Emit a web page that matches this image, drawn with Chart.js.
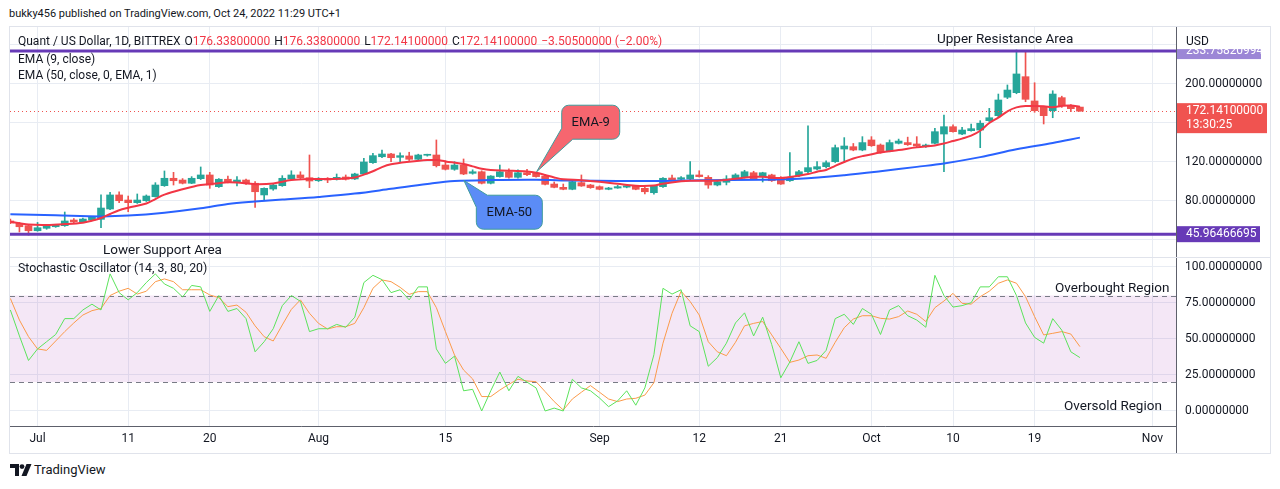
<!DOCTYPE html>
<html>
<head>
<meta charset="utf-8">
<script src="https://cdn.jsdelivr.net/npm/chart.js@4.4.0/dist/chart.umd.min.js"></script>
<style>
html, body { margin: 0; padding: 0; background: #fff; }
body { width: 1280px; height: 489px; position: relative; overflow: hidden; font-family: Roboto, "Liberation Sans", sans-serif; color: #131722; }
.t { position: absolute; white-space: nowrap; height: 16px; line-height: 16px; }
.red { color: #f23645; }
.gap { margin-left: 4px; }
#frame { position: absolute; left: 9px; top: 26px; width: 1260px; height: 426px; border: 1px solid #e0e3eb; }
#sep { position: absolute; left: 10px; top: 257px; width: 1260px; height: 1px; background: #e0e3eb; }
#axisFoot { position: absolute; left: 1176px; top: 426px; width: 1px; height: 27px; background: #5d606b; }
#pricePane { position: absolute; left: 10px; top: 27px; width: 1260px; height: 230px; }
#stochPane { position: absolute; left: 10px; top: 258px; width: 1260px; height: 195px; }
</style>
</head>
<body>
<div id="frame"></div>
<div id="pricePane"><canvas id="priceChart"></canvas></div>
<div id="sep"></div>
<div id="stochPane"><canvas id="stochChart"></canvas></div>
<div id="axisFoot"></div>

<div class="t" style="left:9px;top:6px;font-size:11px;">bukky456 published on TradingView.com, Oct 24, 2022 11:29 UTC+1</div>
<div class="t" style="left:18px;top:33px;font-size:12px;">Quant / US Dollar, 1D, BITTREX<span class="gap">O</span><span class="red">176.33800000</span><span class="gap">H</span><span class="red">176.33800000</span><span class="gap">L</span><span class="red">172.14100000</span><span class="gap">C</span><span class="red">172.14100000</span><span class="red gap">−3.50500000 (−2.00%)</span></div>
<div class="t" style="left:18px;top:51px;font-size:12px;">EMA (9, close)</div>
<div class="t" style="left:18px;top:67px;font-size:12px;">EMA (50, close, 0, EMA, 1)</div>
<div class="t" style="left:937px;top:30px;font-size:13.5px;">Upper Resistance Area</div>
<div class="t" style="left:103px;top:241px;font-size:13.5px;">Lower Support Area</div>
<div class="t" style="left:1186px;top:33px;font-size:12px;">USD</div>
<div class="t" style="left:18px;top:260px;font-size:12.3px;">Stochastic Oscillator (14, 3, 80, 20)</div>
<div class="t" style="left:1055px;top:279px;font-size:13.5px;">Overbought Region</div>
<div class="t" style="left:1064px;top:397px;font-size:13.5px;">Oversold Region</div>
<svg style="position:absolute;left:10px;top:464px" width="22" height="12" viewBox="0 0 22 12">
  <path d="M0 0h9v12h-4v-8H0z" fill="#131722"/>
  <circle cx="12" cy="2.6" r="2.4" fill="#131722"/>
  <path d="M16.5 0h5l-5 12h-5z" fill="#131722"/>
</svg>
<div class="t" style="left:34px;top:462px;font-size:13px;">TradingView</div>

<script>
// day index 0 = Jul 1, 2022; first candle is Jun 28
const firstDay = -3;

const candleOpen = [
  59.5, 57.1, 54.7, 49.5, 52.0, 53.6, 54.7, 60.5, 58.5, 60.5,
  61.2, 71.8, 86.2, 81.0, 78.3, 80.3, 84.4, 95.7, 103.3, 101.5,
  98.2, 102.9, 106.7, 94.7, 102.3, 99.2, 101.5, 98.2, 86.2, 92.3,
  95.7, 102.6, 106.7, 103.9, 100.8, 103.3, 102.3, 104.6, 102.6, 107.7,
  119.3, 125.4, 128.2, 124.8, 126.2, 122.8, 126.9, 127.2, 116.9, 112.5,
  116.9, 108.4, 110.0, 98.2, 105.0, 110.0, 104.3, 109.0, 108.4, 105.6,
  97.4, 94.0, 92.0, 98.8, 96.4, 94.7, 92.0, 93.3, 94.2, 95.4,
  93.0, 88.5, 94.7, 103.6, 102.3, 102.6, 106.7, 104.3, 96.4, 99.2,
  102.3, 104.3, 109.0, 105.0, 106.7, 104.3, 100.8, 106.0, 110.0, 112.8,
  115.2, 120.3, 133.3, 135.7, 132.3, 142.6, 137.4, 131.3, 139.2, 139.9,
  138.5, 135.7, 139.2, 148.7, 156.2, 148.7, 152.1, 152.8, 162.4, 167.5,
  186.4, 191.1, 207.5, 182.6, 176.1, 172.6, 186.0, 177.4, 176.338
];
const candleHigh = [
  61.5, 58.0, 55.5, 58.0, 55.5, 56.0, 68.7, 62.0, 62.5, 64.0,
  86.2, 88.9, 89.5, 85.1, 87.2, 86.2, 98.8, 110.8, 109.4, 103.0,
  105.0, 114.9, 109.4, 103.0, 105.6, 105.0, 102.5, 99.8, 93.5, 97.0,
  106.0, 111.0, 110.0, 127.2, 104.0, 104.0, 107.7, 106.7, 108.5, 123.8,
  128.9, 132.3, 129.0, 129.5, 130.0, 128.0, 128.0, 142.6, 121.3, 120.3,
  123.1, 112.0, 111.0, 106.0, 116.9, 113.0, 112.0, 112.5, 109.5, 106.5,
  99.5, 97.4, 100.5, 106.7, 97.0, 95.5, 94.0, 96.0, 96.0, 96.0,
  94.0, 96.0, 104.0, 106.5, 105.0, 120.3, 111.0, 106.0, 100.5, 106.0,
  108.0, 111.5, 110.5, 109.5, 107.5, 105.0, 129.6, 111.5, 157.0, 120.3,
  121.3, 137.4, 145.0, 139.0, 146.0, 146.0, 138.5, 142.6, 143.5, 145.5,
  146.0, 138.5, 154.6, 168.2, 158.0, 155.5, 159.0, 162.4, 175.0, 189.7,
  199.0, 234.9, 233.1, 201.3, 177.0, 193.1, 187.5, 179.0, 176.338
];
const candleLow = [
  56.8, 48.2, 45.0, 49.0, 51.0, 53.0, 54.0, 57.5, 58.0, 60.0,
  52.6, 71.0, 78.3, 69.0, 77.5, 79.5, 84.0, 95.0, 96.4, 97.5,
  97.8, 102.0, 93.0, 94.0, 98.5, 95.4, 97.0, 73.5, 80.3, 91.0,
  95.0, 102.0, 103.0, 93.7, 100.0, 98.8, 101.5, 101.5, 102.0, 107.0,
  118.5, 124.5, 120.3, 120.3, 121.5, 122.0, 126.0, 114.9, 111.8, 111.5,
  107.0, 107.5, 97.5, 97.5, 104.5, 103.5, 103.5, 106.0, 104.5, 96.5,
  93.5, 91.5, 91.5, 95.0, 93.0, 91.5, 91.5, 93.0, 93.5, 91.5,
  87.2, 87.0, 94.0, 101.0, 101.5, 102.0, 104.5, 93.0, 95.5, 96.5,
  101.5, 103.5, 102.0, 99.5, 100.0, 97.0, 100.0, 105.0, 109.0, 112.0,
  114.0, 119.5, 120.3, 131.5, 131.5, 136.0, 129.0, 130.5, 138.5, 137.0,
  135.8, 135.0, 138.5, 110.0, 150.5, 148.0, 151.5, 134.7, 161.5, 166.5,
  185.0, 190.0, 181.8, 171.0, 159.0, 165.4, 176.0, 171.6, 172.141
];
const candleClose = [
  57.4, 53.6, 49.5, 52.6, 54.7, 55.4, 59.5, 58.5, 61.5, 63.3,
  72.8, 86.2, 80.3, 78.3, 81.0, 85.1, 96.4, 103.3, 100.8, 98.2,
  103.3, 106.7, 96.4, 102.3, 99.2, 101.5, 98.2, 89.5, 93.0, 96.4,
  103.3, 106.7, 103.9, 100.5, 103.3, 101.5, 104.3, 102.3, 107.7, 120.0,
  126.5, 128.2, 124.4, 126.5, 122.8, 127.2, 127.5, 116.2, 112.5, 116.9,
  107.7, 110.0, 98.2, 105.6, 110.0, 104.3, 109.0, 107.0, 105.0, 97.1,
  94.0, 92.0, 99.8, 95.4, 93.7, 92.0, 93.3, 94.7, 95.6, 92.0,
  89.5, 95.4, 103.3, 101.5, 103.9, 106.7, 105.0, 96.4, 99.8, 102.6,
  106.7, 110.0, 102.6, 109.0, 100.8, 97.4, 104.3, 110.0, 114.2, 115.2,
  119.3, 134.7, 136.4, 132.3, 139.9, 136.7, 129.6, 139.9, 141.5, 137.8,
  136.4, 137.4, 151.1, 156.2, 151.1, 152.8, 154.2, 159.7, 165.4, 183.6,
  193.8, 210.3, 184.3, 172.6, 167.5, 189.7, 177.7, 174.7, 172.141
];

const ema9Days = [-3, -2, -1, 1, 3, 5, 6, 7, 8, 9, 10, 12, 13, 14, 16, 18, 20, 21, 22, 24,
  26, 28, 30, 32, 34, 35, 36, 37, 38, 39, 41, 43, 44, 45, 47, 48, 49, 50, 52, 54,
  55, 56, 57, 58, 60, 62, 64, 66, 68, 69, 71, 72, 75, 77, 79, 80, 82, 84, 85, 86,
  87, 88, 89, 90, 91, 93, 95, 97, 99, 100, 101, 102, 103, 104, 105, 106, 107, 108, 109, 111,
  112, 113, 114, 115];
const ema9 = [58.8, 57.3, 55.8, 55.4, 56.3, 57.8, 59.8, 62.5, 66.7, 70.5, 73.0, 77.5, 82.0, 86.5, 92.0, 96.4, 98.3, 99.2, 98.9, 97.3,
  98.0, 101.5, 102.6, 102.6, 103.2, 104.2, 107.0, 110.5, 114.8, 117.6, 120.2, 122.0, 122.0, 120.6, 118.0, 115.5, 113.0, 111.7, 111.1, 110.2,
  109.0, 106.7, 104.2, 102.3, 101.4, 99.8, 97.6, 95.6, 95.8, 97.8, 100.2, 100.8, 100.8, 102.8, 104.8, 104.8, 103.6, 106.0, 107.6, 110.0,
  111.8, 116.0, 120.0, 123.6, 126.0, 129.8, 132.3, 135.0, 137.0, 139.0, 141.5, 144.0, 147.0, 152.0, 160.0, 165.5, 172.0, 176.0, 177.4, 177.3,
  176.2, 177.5, 178.0, 176.7];

const ema50Days = [-3, 2, 7, 10, 14, 18, 21, 24, 27, 31, 35, 39, 43, 46, 50, 55, 59, 64, 69, 73,
  80, 84, 89, 93, 97, 100, 104, 108, 112, 115];
const ema50 = [66.4, 65.3, 64.2, 65.0, 68.0, 72.5, 77.0, 79.5, 81.5, 84.2, 87.6, 92.5, 97.5, 100.5, 101.5, 101.8, 101.0, 100.6, 100.6, 101.3,
  101.8, 102.8, 106.5, 110.5, 115.0, 118.5, 125.0, 133.0, 139.5, 145.0];

const stochK = [
  70, 52, 35, 43, 48, 53, 64, 64, 70, 74,
  70, 95, 82, 77, 82, 89, 95, 88, 85, 79,
  87, 86, 69, 80, 69, 71, 64, 41, 48, 57,
  73, 80, 76, 55, 57, 57, 60, 58, 65, 89,
  94, 91, 82, 84, 77, 86, 86, 43, 33, 38,
  14, 15, 0, 14, 27, 14, 24, 20, 16, 0,
  2, 0, 22, 16, 14, 9, 3, 7, 14, 4,
  16, 39, 85, 81, 84, 59, 55, 31, 37, 47,
  61, 68, 52, 65, 46, 23, 34, 48, 33, 35,
  42, 64, 67, 60, 71, 67, 53, 70, 73, 66,
  63, 58, 94, 80, 72, 73, 75, 86, 86, 93,
  93, 80, 61, 51, 47, 64, 56, 41, 37
];
const stochD = [
  78, 63, 51.5, 43, 42, 48.5, 55, 61, 66.5, 69.5,
  71, 80, 83, 85, 81, 83, 89.6, 91.5, 89.6, 84,
  84, 84, 80.4, 78.5, 72.3, 73.4, 68.4, 59, 51.5, 48.5,
  59.6, 70.4, 77, 67.7, 60.7, 56.8, 58.4, 58.4, 60.7, 71.6,
  85, 90.8, 89.6, 85.7, 80.8, 82.7, 82.7, 71.6, 55, 38.8,
  28.4, 22.2, 10, 10, 14.5, 18.5, 22, 20.8, 20.3, 13.4,
  6.5, 0.7, 8.3, 13, 17.6, 13, 8.3, 6.5, 8.3, 8.8,
  11, 19.6, 47, 67.7, 83, 75.8, 66.5, 48, 41, 38.3,
  47.6, 59, 60.7, 62, 52.7, 43.4, 33.7, 35.3, 38.3, 38.8,
  36.5, 47.6, 57.7, 63.7, 66, 66, 64.2, 63.7, 65.4, 69.3,
  67, 62, 71.6, 76.2, 81.5, 74.6, 74, 79.2, 83, 88.5,
  90.8, 88.5, 79.2, 65.4, 52.7, 53.8, 55, 53.3, 44.6
];

const tickDays = [0, 10, 19, 31, 45, 62, 73, 82, 92, 101, 110, 123];
const tickLabels = ['Jul', '11', '20', 'Aug', '15', 'Sep', '12', '21', 'Oct', '10', '19', 'Nov'];
const priceTicks = [40, 80, 120, 160, 200, 240];
const hiddenPriceTicks = [40, 160, 240];
const stochTicks = [0, 25, 50, 75, 100];
const levels = [233.75820994, 45.96466695];
const levelLabels = ['233.75820994', '45.96466695'];
const lastPrice = 172.141;
const lastPriceLabel = '172.14100000';
const countdownLabel = '13:30:25';
const bandTop = 80, bandBottom = 20;

// view
const xMin = -3.04, xMax = 125.6;
const UP = '#26a69a', DOWN = '#ef5350', LEVEL = '#673ab7';
const GRID = '#e8ecf3', AXIS = '#5d606b', TEXT = '#131722';
const FONT = 'Roboto, "Liberation Sans", sans-serif';

const callouts = [
  { text: 'EMA-9', tip: [55.06, 110.0], box: [61.03, 160.8], w: 58, h: 34, corner: 'bl', fill: '#f6666f' },
  { text: 'EMA-50', tip: [47.04, 101.0], box: [52.05, 68.5], w: 66, h: 34, corner: 'tl', fill: '#5b8cf6' }
];

const days = candleClose.map((c, k) => firstDay + k);
const candleColor = candleClose.map((c, k) => c >= candleOpen[k] ? UP : DOWN);

function setTicks(values) {
  return scale => { scale.ticks = values.map(v => ({ value: v })); };
}

// fixed axis width, and no extra padding so the plot fills the pane
function fitAxis(width) {
  return scale => {
    scale.width = width;
    scale.paddingTop = 0;
    scale.paddingBottom = 0;
  };
}

function drawCallout(ctx, c, xs, ys) {
  const tx = xs.getPixelForValue(c.tip[0]), ty = ys.getPixelForValue(c.tip[1]);
  const cx = xs.getPixelForValue(c.box[0]), cy = ys.getPixelForValue(c.box[1]);
  const l = cx - c.w / 2, r = cx + c.w / 2, t = cy - c.h / 2, b = cy + c.h / 2, rad = 7;
  ctx.beginPath();
  if (c.corner === 'bl') {
    ctx.moveTo(l + rad, t);
    ctx.arcTo(r, t, r, t + rad, rad);
    ctx.arcTo(r, b, r - rad, b, rad);
    ctx.lineTo(l + 11, b);
    ctx.lineTo(tx, ty);
    ctx.lineTo(l, b - 11);
    ctx.arcTo(l, t, l + rad, t, rad);
  } else {
    ctx.moveTo(l + 11, t);
    ctx.arcTo(r, t, r, t + rad, rad);
    ctx.arcTo(r, b, r - rad, b, rad);
    ctx.arcTo(l, b, l, b - rad, rad);
    ctx.lineTo(l, t + 12);
    ctx.lineTo(tx, ty);
  }
  ctx.closePath();
  ctx.fillStyle = c.fill;
  ctx.fill();
  ctx.strokeStyle = '#3f9c9c';
  ctx.lineWidth = 1;
  ctx.stroke();
  ctx.fillStyle = TEXT;
  ctx.font = '13px ' + FONT;
  ctx.textAlign = 'center';
  ctx.textBaseline = 'middle';
  ctx.fillText(c.text, cx, cy + 1);
}

function axisTag(ctx, x, yc, lines, bg, w) {
  const h = lines.length * 14 + 2;
  ctx.fillStyle = bg;
  ctx.fillRect(x, yc - 8, w, h);
  ctx.fillStyle = '#fff';
  ctx.font = '12px ' + FONT;
  ctx.textAlign = 'left';
  ctx.textBaseline = 'middle';
  lines.forEach((s, i) => ctx.fillText(s, x + 9, yc + i * 14));
}

const pricePlugin = {
  id: 'priceMarks',
  afterDatasetsDraw(chart) {
    const { ctx, chartArea: a, scales: { y } } = chart;
    ctx.save();
    ctx.beginPath();
    ctx.rect(a.left, a.top, a.right - a.left, a.bottom - a.top);
    ctx.clip();
    const ly = Math.round(y.getPixelForValue(lastPrice)) + 0.5;
    ctx.strokeStyle = DOWN;
    ctx.lineWidth = 1;
    ctx.setLineDash([1, 3]);
    ctx.beginPath(); ctx.moveTo(a.left, ly); ctx.lineTo(a.right, ly); ctx.stroke();
    ctx.setLineDash([]);
    ctx.strokeStyle = LEVEL;
    ctx.lineWidth = 3;
    levels.forEach(v => {
      const py = y.getPixelForValue(v);
      ctx.beginPath(); ctx.moveTo(a.left, py); ctx.lineTo(a.right, py); ctx.stroke();
    });
    ctx.restore();
  },
  afterDraw(chart) {
    const { ctx, chartArea: a, scales: { x, y } } = chart;
    ctx.save();
    axisTag(ctx, a.right + 1, y.getPixelForValue(levels[0]), [levelLabels[0]], '#9c86d6', 84);
    ctx.fillStyle = '#fff';
    ctx.fillRect(a.right + 1, 0, chart.width - a.right - 1, y.getPixelForValue(levels[0]) - 2);
    axisTag(ctx, a.right + 1, y.getPixelForValue(levels[1]), [levelLabels[1]], LEVEL, 83);
    axisTag(ctx, a.right + 1, y.getPixelForValue(lastPrice), [lastPriceLabel, countdownLabel], '#f05350', 90);
    callouts.forEach(c => drawCallout(ctx, c, x, y));
    ctx.restore();
  }
};

const bandPlugin = {
  id: 'stochBand',
  beforeDatasetsDraw(chart) {
    const { ctx, chartArea: a, scales: { y } } = chart;
    const y1 = y.getPixelForValue(bandTop), y2 = y.getPixelForValue(bandBottom);
    ctx.save();
    ctx.fillStyle = 'rgba(156, 39, 176, 0.11)';
    ctx.fillRect(a.left, y1, a.right - a.left, y2 - y1);
    ctx.strokeStyle = '#787b86';
    ctx.lineWidth = 1;
    ctx.setLineDash([5, 4]);
    [y1, y2].forEach(py => {
      const p = Math.round(py) + 0.5;
      ctx.beginPath(); ctx.moveTo(a.left, p); ctx.lineTo(a.right, p); ctx.stroke();
    });
    ctx.restore();
  }
};

const tickFont = { family: FONT, size: 12 };

new Chart(document.getElementById('priceChart'), {
  type: 'bar',
  data: {
    datasets: [
      { type: 'line', data: ema9Days.map((d, k) => ({ x: d, y: ema9[k] })), borderColor: '#f23645', borderWidth: 2, pointRadius: 0, tension: 0.35, order: 0 },
      { type: 'line', data: ema50Days.map((d, k) => ({ x: d, y: ema50[k] })), borderColor: '#2962ff', borderWidth: 2, pointRadius: 0, tension: 0.35, order: 0 },
      { data: days.map((d, k) => ({ x: d, y: [candleOpen[k], candleClose[k]] })), backgroundColor: candleColor, barThickness: 7, minBarLength: 1, grouped: false, order: 1 },
      { data: days.map((d, k) => ({ x: d, y: [candleLow[k], candleHigh[k]] })), backgroundColor: candleColor, barThickness: 1, grouped: false, order: 2 }
    ]
  },
  options: {
    responsive: true,
    maintainAspectRatio: false,
    animation: false,
    events: [],
    layout: { padding: 0 },
    plugins: { legend: { display: false }, tooltip: { enabled: false } },
    scales: {
      x: {
        type: 'linear', min: xMin, max: xMax, offset: false,
        afterBuildTicks: setTicks(tickDays),
        ticks: { display: false },
        grid: { color: GRID, drawTicks: false, offset: false },
        border: { display: false },
        afterFit: s => { s.height = 0; s.paddingLeft = 0; s.paddingRight = 0; }
      },
      y: {
        position: 'right', min: 22.56, max: 258.46,
        afterBuildTicks: setTicks(priceTicks),
        ticks: { callback: v => hiddenPriceTicks.includes(v) ? '' : v.toFixed(8), padding: 9, font: tickFont, color: TEXT },
        grid: { color: GRID, drawTicks: false },
        border: { color: AXIS },
        afterFit: fitAxis(94)
      }
    }
  },
  plugins: [pricePlugin]
});

new Chart(document.getElementById('stochChart'), {
  type: 'line',
  data: {
    datasets: [
      { data: days.map((d, k) => ({ x: d, y: stochK[k] })), borderColor: '#5be35b', borderWidth: 1, pointRadius: 0, order: 0 },
      { data: days.map((d, k) => ({ x: d, y: stochD[k] })), borderColor: '#fb9a4a', borderWidth: 1, pointRadius: 0, order: 1 }
    ]
  },
  options: {
    responsive: true,
    maintainAspectRatio: false,
    animation: false,
    events: [],
    layout: { padding: 0 },
    plugins: { legend: { display: false }, tooltip: { enabled: false } },
    scales: {
      x: {
        type: 'linear', min: xMin, max: xMax,
        afterBuildTicks: setTicks(tickDays),
        ticks: { callback: v => tickLabels[tickDays.indexOf(v)], autoSkip: false, maxRotation: 0, padding: 6, font: tickFont, color: TEXT },
        grid: { color: GRID, drawTicks: false },
        border: { color: AXIS },
        afterFit: s => { s.height = 27; s.paddingLeft = 0; s.paddingRight = 0; }
      },
      y: {
        position: 'right', min: -10.4, max: 106,
        afterBuildTicks: setTicks(stochTicks),
        ticks: { callback: v => v.toFixed(8), padding: 9, font: tickFont, color: TEXT },
        grid: { color: GRID, drawTicks: false },
        border: { color: AXIS },
        afterFit: fitAxis(94)
      }
    }
  },
  plugins: [bandPlugin]
});
</script>
</body>
</html>
